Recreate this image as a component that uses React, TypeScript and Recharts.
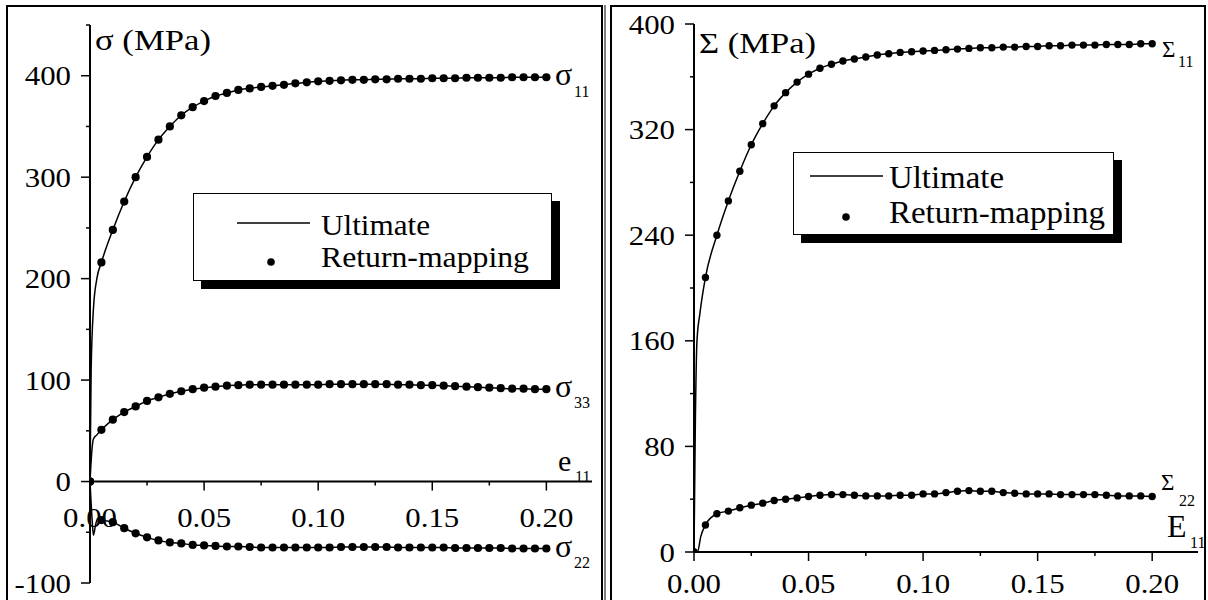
import { ComposedChart, Line, XAxis, YAxis, ReferenceLine, Legend } from 'recharts';

const FONT = '"Liberation Serif", "Times New Roman", Times, serif';

// strain steps of the return-mapping markers
const strain = [
  0, 0.005, 0.01, 0.015, 0.02, 0.025, 0.03, 0.035, 0.04, 0.045, 0.05, 0.055, 0.06, 0.065, 0.07, 0.075, 0.08,
  0.085, 0.09, 0.095, 0.1, 0.105, 0.11, 0.115, 0.12, 0.125, 0.13, 0.135, 0.14, 0.145, 0.15, 0.155, 0.16, 0.165,
  0.17, 0.175, 0.18, 0.185, 0.19, 0.195, 0.2,
];

// left panel, local stresses (MPa)
const sig11 = [
  0, 216, 248, 276, 300, 320, 337, 350, 361, 369, 375, 380, 383, 386, 387.5, 389, 390, 391, 392.5, 393.5, 394.5,
  395, 395.5, 396, 396, 396.5, 396.5, 397, 397, 397, 397.5, 397.5, 397.5, 398, 398, 398, 398, 398.5, 398.5, 398.5,
  398.5,
];
const sig33 = [
  0, 51, 61, 68.5, 74, 79.5, 83, 86.5, 89, 91, 92.5, 93.5, 94.5, 95, 95.5, 95.5, 95.5, 95.5, 95.5, 95.5, 95.5, 96,
  96, 96, 96, 96, 96, 95.5, 95.5, 95, 95, 94.5, 94, 93.5, 93, 92.5, 92, 91.5, 91.5, 91, 91,
];
const sig22 = [
  0, -38, -40, -46, -51, -55, -58, -60, -61, -62.5, -63, -63.5, -64, -64, -64.5, -65, -65, -65, -65, -65, -65, -65,
  -64.5, -64.5, -64.5, -64.5, -64.5, -65, -65, -65, -65, -65, -65.5, -65.5, -65.5, -65.5, -65.5, -66, -66, -66, -66,
];

// right panel, macroscopic stresses (MPa)
const bigSig11 = [
  0, 208, 240, 266, 288.5, 308.5, 324.5, 338, 348, 356, 362, 366.5, 369.5, 372, 373.5, 375, 376.5, 377.5, 378.5,
  379, 379.5, 380, 380.5, 381, 381.5, 382, 382, 382.5, 382.5, 383, 383, 383.5, 383.5, 384, 384, 384, 384.5, 384.5,
  384.5, 385, 385,
];
const bigSig22 = [
  0, 20.5, 29, 31, 33.5, 35.5, 37, 39, 40, 41, 42, 43, 43.5, 43.5, 43, 42.5, 42.5, 42.5, 43, 43, 44, 44, 45, 46,
  46.5, 46, 46, 45, 44.5, 44, 44, 44, 43.5, 43.5, 43.5, 43.5, 43, 42.5, 42.5, 42.5, 42,
];

// ultimate curves: the steep start before the first marker
const early11 = { e: [0, 0.0005, 0.0015, 0.003], s: [0, 110, 170, 200] };
const early33 = { e: [0, 0.0008, 0.0015, 0.003], s: [0, 30, 42, 46] };
const early22 = { e: [0, 0.001, 0.0015, 0.0025, 0.0035], s: [0, -40, -53, -42, -36] };
const earlyBig11 = { e: [0, 0.0006, 0.0013, 0.0026], s: [0, 100, 160, 181] };
const earlyBig22 = { e: [0, 0.0015, 0.003], s: [0, 0, 12] };

const xTicks = [0, 0.025, 0.05, 0.075, 0.1, 0.125, 0.15, 0.175, 0.2];
const leftYTicks = [-100, -50, 0, 50, 100, 150, 200, 250, 300, 350, 400, 450];
const rightYTicks = [0, 40, 80, 120, 160, 200, 240, 280, 320, 360, 400];

type Pt = { e: number; s: number };
const toPts = (xs: number[], ys: number[]): Pt[] => xs.map((e, i) => ({ e, s: ys[i] }));
const marks = (ys: number[]) => toPts(strain, ys);
const curve = (early: { e: number[]; s: number[] }, ys: number[]) => [
  ...toPts(early.e, early.s),
  ...toPts(strain.slice(1), ys.slice(1)),
];

function XTick({ x, y, payload, shift, labelDy }: any) {
  const v = payload.value;
  const major = Math.round(v * 1000) % 50 === 0;
  const ay = y - shift;
  return (
    <g>
      <line x1={x} x2={x} y1={ay} y2={ay + (major ? 9 : 4)} stroke="#000" strokeWidth={1.5} />
      {major && (
        <text transform={`translate(${x},${ay + labelDy}) scale(1.1,1)`} textAnchor="middle" style={{ fontFamily: FONT }} fontSize={28} fill="#000">
          {v.toFixed(2)}
        </text>
      )}
    </g>
  );
}

function YTick({ x, y, payload, step }: any) {
  const v = payload.value;
  const major = v % step === 0;
  return (
    <g>
      <line x1={x} x2={x - (major ? 9 : 4)} y1={y} y2={y} stroke="#000" strokeWidth={1.5} />
      {major && (
        <text transform={`translate(${x - 19},${y + 9.5}) scale(1.1,1)`} textAnchor="end" style={{ fontFamily: FONT }} fontSize={28} fill="#000">
          {v}
        </text>
      )}
    </g>
  );
}

function LegendBox({ w, h, lx1, lx2, ly, dx, dy, tx, b1, b2, fs, tl1, tl2 }: any) {
  return (
    <div style={{ position: 'relative', width: w, height: h, background: '#fff', border: '1px solid #000', boxShadow: '8px 8px 0 #000', boxSizing: 'border-box' }}>
      <svg width={w} height={h} style={{ position: 'absolute', left: -1, top: -1, fontFamily: FONT }}>
        <line x1={lx1} x2={lx2} y1={ly} y2={ly} stroke="#000" strokeWidth={1.5} />
        <circle cx={dx} cy={dy} r={3.8} fill="#000" />
        <text x={tx} y={b1} fontSize={fs} textLength={tl1} lengthAdjust="spacingAndGlyphs">Ultimate</text>
        <text x={tx} y={b2} fontSize={fs} textLength={tl2} lengthAdjust="spacingAndGlyphs">Return-mapping</text>
      </svg>
    </div>
  );
}

const leftLegend = { w: 359, h: 88, lx1: 44, lx2: 117, ly: 30, dx: 78, dy: 69, tx: 128, b1: 42, b2: 74, fs: 30, tl1: 109, tl2: 208 };
const rightLegend = { w: 321, h: 83, lx1: 17, lx2: 90, ly: 24, dx: 53, dy: 65, tx: 96, b1: 36, b2: 71, fs: 31, tl1: 115, tl2: 216 };

function Panel({ yDomain, yTicks, yStep, top, right, xAxisH, labelDy, legendPos, legend, series, dotR }: any) {
  const plotH = 600 - top - xAxisH;
  const shift = (plotH * (0 - yDomain[0])) / (yDomain[1] - yDomain[0]);
  return (
    <ComposedChart width={604} height={600} margin={{ top, right, bottom: 0, left: 0 }}>
      <XAxis
        dataKey="e"
        type="number"
        domain={[0, 0.22]}
        ticks={xTicks}
        interval={0}
        height={xAxisH}
        axisLine={false}
        tickLine={false}
        tickSize={0}
        tickMargin={0}
        allowDataOverflow
        tick={(p: any) => <XTick {...p} shift={shift} labelDy={labelDy} />}
      />
      <YAxis
        type="number"
        domain={yDomain}
        ticks={yTicks}
        interval={0}
        width={90}
        axisLine={{ stroke: '#000', strokeWidth: 2 }}
        tickLine={false}
        tickSize={0}
        tickMargin={0}
        allowDataOverflow
        tick={(p: any) => <YTick {...p} step={yStep} />}
      />
      <ReferenceLine y={0} stroke="#000" strokeWidth={2} />
      <Legend
        layout="vertical"
        align="center"
        verticalAlign="middle"
        wrapperStyle={{ ...legendPos }}
        content={() => <LegendBox {...legend} />}
      />
      {series.map((sr: any, i: number) => (
        <Line
          key={'u' + i}
          data={curve(sr.early, sr.ys)}
          dataKey="s"
          type="monotone"
          stroke="#000"
          strokeWidth={1.5}
          dot={false}
          activeDot={false}
          isAnimationActive={false}
        />
      ))}
      {series.map((sr: any, i: number) => (
        <Line
          key={'r' + i}
          data={marks(sr.ys)}
          dataKey="s"
          stroke="none"
          dot={{ r: dotR, fill: '#000', stroke: 'none' }}
          activeDot={false}
          isAnimationActive={false}
        />
      ))}
    </ComposedChart>
  );
}

export default function App() {
  return (
    <div style={{ position: 'absolute', left: 0, top: 0, width: 1208, height: 600, background: '#fff', overflow: 'hidden', fontFamily: FONT }}>
      <div style={{ position: 'absolute', left: 0, top: 0 }}>
        <Panel
          yDomain={[-100, 450]}
          yTicks={leftYTicks}
          yStep={100}
          top={25}
          right={12}
          xAxisH={17}
          labelDy={45}
          legendPos={{ left: 193, top: 193, width: 359, height: 88 }}
          legend={leftLegend}
          dotR={4.1}
          series={[
            { early: early11, ys: sig11 },
            { early: early33, ys: sig33 },
            { early: early22, ys: sig22 },
          ]}
        />
      </div>
      <div style={{ position: 'absolute', left: 604, top: 0 }}>
        <Panel
          yDomain={[0, 400]}
          yTicks={rightYTicks}
          yStep={80}
          top={24}
          right={10}
          xAxisH={48}
          labelDy={41}
          legendPos={{ left: 189, top: 152, width: 321, height: 83 }}
          legend={rightLegend}
          dotR={3.7}
          series={[
            { early: earlyBig11, ys: bigSig11 },
            { early: earlyBig22, ys: bigSig22 },
          ]}
        />
      </div>
      <svg width={1208} height={600} style={{ position: 'absolute', left: 0, top: 0, pointerEvents: 'none', fontFamily: FONT }}>
        <path d="M7,610 V6 H602 V610" stroke="#000" strokeWidth={2} fill="none" />
        <line x1={605} x2={605} y1={5} y2={610} stroke="#000" strokeWidth={1} />
        <path d="M611,610 V6 H1205 V610" stroke="#000" strokeWidth={2} fill="none" />
        <g fill="#000">
          <text x={95} y={50} fontSize={30} textLength={116} lengthAdjust="spacingAndGlyphs">σ (MPa)</text>
          <text x={555} y={85} fontSize={32}>σ</text>
          <text x={574} y={97} fontSize={16}>11</text>
          <text x={555} y={397} fontSize={32}>σ</text>
          <text x={574} y={408} fontSize={16}>33</text>
          <text x={555} y={557} fontSize={32}>σ</text>
          <text x={574} y={568} fontSize={16}>22</text>
          <text x={558} y={471} fontSize={30}>e</text>
          <text x={575} y={482} fontSize={16}>11</text>

          <text x={699} y={53} fontSize={30} textLength={117} lengthAdjust="spacingAndGlyphs">Σ (MPa)</text>
          <text x={1162} y={57} fontSize={23}>Σ</text>
          <text x={1178} y={67} fontSize={16}>11</text>
          <text x={1161} y={490} fontSize={23}>Σ</text>
          <text x={1179} y={506} fontSize={16}>22</text>
          <text x={1167} y={537} fontSize={32}>E</text>
          <text x={1190} y={548} fontSize={16}>11</text>
        </g>
      </svg>
    </div>
  );
}
